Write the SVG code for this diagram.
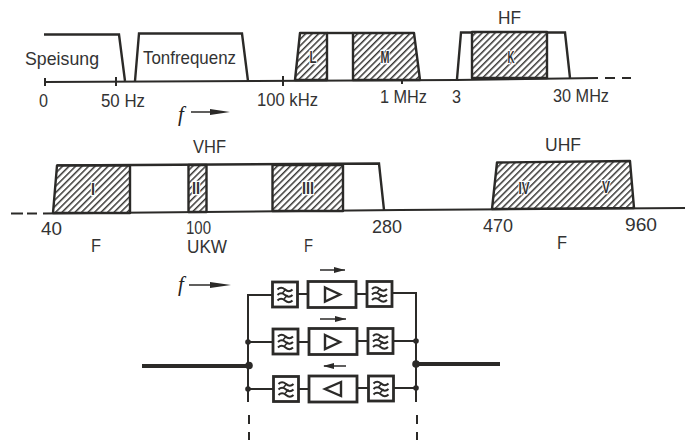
<svg xmlns="http://www.w3.org/2000/svg" xmlns:xlink="http://www.w3.org/1999/xlink" width="695" height="445" viewBox="0 0 695 445">
<style>
.l{fill:none;stroke:#2b2a28;stroke-width:2;stroke-linejoin:round}
.t{fill:none;stroke:#2b2a28;stroke-width:2}
.h{fill:url(#hatch);stroke:#2b2a28;stroke-width:2.4;stroke-linejoin:round}
.s{fill:none;stroke:#2b2a28;stroke-width:2.4}
.b{fill:#fff;stroke:#2b2a28;stroke-width:2.8}
.tri{fill:#fff;stroke:#2b2a28;stroke-width:2.4}
.w{fill:none;stroke:#2b2a28;stroke-width:2}
.c{fill:none;stroke:#2b2a28;stroke-width:2}
.thick{fill:none;stroke:#2b2a28;stroke-width:3.8}
.ar{fill:none;stroke:#2b2a28;stroke-width:1.5}
.ah{fill:#2b2a28}
.d{fill:#2b2a28}
text{font-family:"Liberation Sans",Arial,sans-serif;font-size:19px;fill:#333}
.r{font-weight:bold;font-size:17px;fill:#333;text-anchor:middle;stroke:#fff;stroke-width:2.5;paint-order:stroke}
.f{font-style:italic;font-size:21px;font-family:"Liberation Serif",serif;fill:#222}
</style>
<defs>
<pattern id="hatch" width="4.6" height="4.6" patternUnits="userSpaceOnUse" patternTransform="rotate(45)">
<rect width="4.6" height="4.6" fill="#fff"/><rect width="1.5" height="4.6" fill="#3a3937"/>
</pattern>
<g id="flt"><rect class="b" x="0" y="0" width="25" height="25"/>
<path class="w" d="M5 7.500q3.500-3.500 7.500 0t7.500 0M5 13q3.500-3.500 7.500 0t7.500 0M5 18.500q3.500-3.500 7.500 0t7.500 0"/>
<path class="w" style="stroke-width:1.500" d="M10 11l3.500-4M11.500 17l3.500-4"/>
</g>
<g id="ampbox"><rect class="b" x="0" y="0" width="48" height="26"/></g>
</defs>
<rect width="695" height="445" fill="#fff"/>

<g id="axis-top">
<path class="l" d="M45 82L456 80L598 78"/>
<path class="l" d="M605 78H615M622 78H631"/>
<path class="t" d="M45 78V86M116 77V86M283 76V86M402 75V84"/>
</g>
<g id="band-speisung">
<path class="s" d="M44 34.500H119L125 81"/>
<text x="25" y="65" textLength="74" lengthAdjust="spacingAndGlyphs">Speisung</text>
</g>
<g id="band-tonfrequenz">
<path class="s" d="M135 81L139 33.500H242L248 81"/>
<text x="143" y="64" textLength="93" lengthAdjust="spacingAndGlyphs">Tonfrequenz</text>
</g>
<g id="band-lm">
<path class="h" d="M295 80L300 33H327V80Z"/>
<path class="h" d="M353 80V33H414L420 80Z"/>
<path class="s" d="M327 33H353"/>
<text class="r" x="313" y="63" textLength="7" lengthAdjust="spacingAndGlyphs">L</text>
<text class="r" x="385" y="63" textLength="9" lengthAdjust="spacingAndGlyphs">M</text>
</g>
<g id="band-hf">
<path class="s" d="M457 79L461 32.500H565L570 78"/>
<rect class="h" x="472" y="32" width="75" height="46"/>
<text class="r" x="511" y="63" textLength="7" lengthAdjust="spacingAndGlyphs">K</text>
<text x="498" y="24" textLength="23" lengthAdjust="spacingAndGlyphs">HF</text>
</g>
<g id="labels-top">
<text x="39" y="107" textLength="9" lengthAdjust="spacingAndGlyphs">0</text>
<text x="101" y="107" textLength="44" lengthAdjust="spacingAndGlyphs">50 Hz</text>
<text x="257" y="106" textLength="61" lengthAdjust="spacingAndGlyphs">100 kHz</text>
<text x="380" y="103" textLength="47" lengthAdjust="spacingAndGlyphs">1 MHz</text>
<text x="452" y="103" textLength="9" lengthAdjust="spacingAndGlyphs">3</text>
<text x="553" y="102" textLength="56" lengthAdjust="spacingAndGlyphs">30 MHz</text>
<text class="f" x="178" y="121">f</text>
<path class="ar" d="M191 112H222"/><path class="ah" d="M210 109L230 112L210 115Z"/>
</g>

<g id="axis-mid">
<path class="l" d="M43 213.500L400 210L685 208"/>
<path class="l" d="M11 213.500H23M27 213.500H37"/>
</g>
<g id="band-vhf">
<path class="s" d="M57 165.500L379 163.500L384 210"/>
<path class="h" d="M53 213L57 165.500H130V213Z"/>
<rect class="h" x="188.500" y="165" width="18" height="47"/>
<rect class="h" x="272.500" y="165" width="70.500" height="46"/>
<text class="r" x="93" y="195" textLength="4" lengthAdjust="spacingAndGlyphs">I</text>
<text class="r" x="196" y="194" textLength="8" lengthAdjust="spacingAndGlyphs">II</text>
<text class="r" x="308" y="194" textLength="12" lengthAdjust="spacingAndGlyphs">III</text>
<text x="193" y="153" textLength="33" lengthAdjust="spacingAndGlyphs">VHF</text>
</g>
<g id="band-uhf">
<path class="h" d="M492 209L497 162.500L630 161L634 208Z"/>
<text class="r" x="524" y="194" textLength="11" lengthAdjust="spacingAndGlyphs">IV</text>
<text class="r" x="606" y="193" textLength="8" lengthAdjust="spacingAndGlyphs">V</text>
<text x="545" y="151" textLength="36" lengthAdjust="spacingAndGlyphs">UHF</text>
</g>
<g id="labels-mid">
<text x="41" y="235" textLength="21" lengthAdjust="spacingAndGlyphs">40</text>
<text x="186" y="234" textLength="25" lengthAdjust="spacingAndGlyphs">100</text>
<text x="187" y="253" textLength="40" lengthAdjust="spacingAndGlyphs">UKW</text>
<text x="91" y="252" textLength="10" lengthAdjust="spacingAndGlyphs">F</text>
<text x="304" y="252" textLength="9" lengthAdjust="spacingAndGlyphs">F</text>
<text x="372" y="233" textLength="30" lengthAdjust="spacingAndGlyphs">280</text>
<text x="483" y="232" textLength="30" lengthAdjust="spacingAndGlyphs">470</text>
<text x="625" y="231" textLength="32" lengthAdjust="spacingAndGlyphs">960</text>
<text x="557" y="249" textLength="10" lengthAdjust="spacingAndGlyphs">F</text>
</g>

<g id="connectors">
<path class="c" d="M248 402V295H272M297 294H308M356 294H367M392 293H416V402"/>
<path class="c" d="M248 342H272M297 342H308M356 341H367M392 341H416"/>
<path class="c" d="M248 389H273M298 389H309M357 388H368M393 388H416"/>
<path class="c" d="M249 415V424M249 432V440M417 415V424M417 432V440"/>
<path class="thick" d="M142 366H248M417 364H500"/>
<circle class="d" cx="248" cy="342" r="2.800"/>
<circle class="d" cx="248" cy="389" r="2.800"/>
<circle class="d" cx="249" cy="365.500" r="3.800"/>
<circle class="d" cx="416" cy="341" r="2.800"/>
<circle class="d" cx="416" cy="388" r="2.800"/>
<circle class="d" cx="416" cy="364" r="3.800"/>
</g>
<g id="f-arrow">
<text class="f" x="178" y="291">f</text>
<path class="ar" d="M189 285H222"/><path class="ah" d="M210 282L231 285L210 288Z"/>
</g>
<g id="filter-1a"><use xlink:href="#flt" href="#flt" x="272.500" y="282"/></g>
<g id="amp-1"><use xlink:href="#ampbox" href="#ampbox" x="308" y="281.500"/><path class="tri" d="M325 287.500L340 294.500L325 301.500Z"/></g>
<g id="filter-1b"><use xlink:href="#flt" href="#flt" x="367" y="281.500"/></g>
<g id="dir-1"><path class="ar" d="M320 270H345"/><path class="ah" d="M334 267L345 270L334 273Z"/></g>
<g id="filter-2a"><use xlink:href="#flt" href="#flt" x="273" y="329"/></g>
<g id="amp-2"><use xlink:href="#ampbox" href="#ampbox" x="309" y="328.500"/><path class="tri" d="M325 335L340 342L325 349Z"/></g>
<g id="filter-2b"><use xlink:href="#flt" href="#flt" x="368" y="328.500"/></g>
<g id="dir-2"><path class="ar" d="M320 319H346"/><path class="ah" d="M335 316L346 319L335 322Z"/></g>
<g id="filter-3a"><use xlink:href="#flt" href="#flt" x="273.500" y="376.500"/></g>
<g id="amp-3"><use xlink:href="#ampbox" href="#ampbox" x="309" y="376"/><path class="tri" d="M341 382L325 389L341 396Z"/></g>
<g id="filter-3b"><use xlink:href="#flt" href="#flt" x="368.500" y="376"/></g>
<g id="dir-3"><path class="ar" d="M324 366H346"/><path class="ah" d="M334 363L323 366L334 369Z"/></g>
</svg>
